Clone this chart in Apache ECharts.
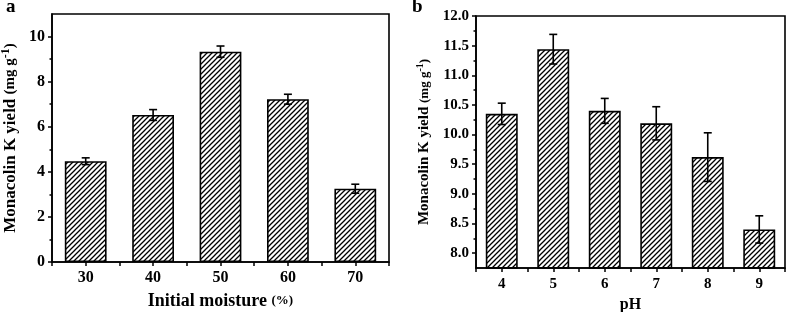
<!DOCTYPE html>
<html>
<head>
<meta charset="utf-8">
<script src="https://cdn.jsdelivr.net/npm/echarts@6/dist/echarts.min.js"></script>
<style>
  html, body { margin: 0; padding: 0; background: #fff; }
  #chart { width: 787px; height: 312px; }
</style>
</head>
<body>
<div id="chart"></div>
<script>
// panel a: initial moisture
const moistureCats = ['30', '40', '50', '60', '70'];
const moistureYield = [4.47, 6.52, 9.33, 7.22, 3.25];
const moistureErr = [0.15, 0.24, 0.25, 0.22, 0.2];
const moistureTicks = [0, 2, 4, 6, 8, 10];
const moistureMinor = [1, 3, 5, 7, 9];

// panel b: pH
const phCats = ['4', '5', '6', '7', '8', '9'];
const phYield = [10.35, 11.44, 10.40, 10.19, 9.62, 8.40];
const phErr = [0.18, 0.25, 0.21, 0.28, 0.41, 0.23];
const phTicks = [8, 8.5, 9, 9.5, 10, 10.5, 11, 11.5, 12];
const phMinor = [8.25, 8.75, 9.25, 9.75, 10.25, 10.75, 11.25, 11.75];

const serif = '"Liberation Serif", "Times New Roman", serif';

// diagonal hatch tile
function hatch(step) {
  const c = document.createElement('canvas');
  c.width = step;
  c.height = step;
  const g = c.getContext('2d');
  g.strokeStyle = '#000';
  g.lineWidth = 1.3;
  g.beginPath();
  g.moveTo(-1, step + 1); g.lineTo(step + 1, -1);
  g.moveTo(-1, 1); g.lineTo(1, -1);
  g.moveTo(step - 1, step + 1); g.lineTo(step + 1, step - 1);
  g.stroke();
  return c;
}

function errorBars(params, api) {
  const x = api.value(0), v = api.value(1), e = api.value(2);
  const hi = api.coord([x, v + e]);
  const lo = api.coord([x, v - e]);
  const cap = 4;
  const style = { stroke: '#000', lineWidth: 1.6 };
  return {
    type: 'group',
    children: [
      { type: 'line', shape: { x1: hi[0], y1: hi[1], x2: lo[0], y2: lo[1] }, style },
      { type: 'line', shape: { x1: hi[0] - cap, y1: hi[1], x2: hi[0] + cap, y2: hi[1] }, style },
      { type: 'line', shape: { x1: lo[0] - cap, y1: lo[1], x2: lo[0] + cap, y2: lo[1] }, style }
    ]
  };
}

const axisLine = { lineStyle: { color: '#000', width: 1.6 } };
const labelStyle = (size) => ({ color: '#000', fontFamily: serif, fontWeight: 'bold', fontSize: size });
const yName = (size) => ({
  m: { fontFamily: serif, fontWeight: 'bold', fontSize: size, color: '#000' },
  p: { fontFamily: serif, fontWeight: 'bold', fontSize: size - 2, color: '#000' },
  sup: { fontFamily: serif, fontWeight: 'bold', fontSize: size - 5, color: '#000', padding: [0, 0, 9, 0] }
});

const chart = echarts.init(document.getElementById('chart'));

chart.setOption({
  animation: false,
  backgroundColor: '#fff',
  graphic: [
    { type: 'text', left: 6, top: -2, style: { text: 'a', font: 'bold 19px ' + serif, fill: '#000' } },
    { type: 'text', left: 412, top: -2, style: { text: 'b', font: 'bold 19px ' + serif, fill: '#000' } }
  ],
  grid: [
    { left: 52, top: 14, width: 337, height: 248, outerBoundsMode: 'none', show: true, borderColor: '#000', borderWidth: 1.6 },
    { left: 476, top: 16, width: 309, height: 252, outerBoundsMode: 'none', show: true, borderColor: '#000', borderWidth: 1.6 }
  ],
  xAxis: [
    {
      type: 'category', gridIndex: 0, data: moistureCats, position: 'bottom',
      axisLine, axisTick: { show: false },
      axisLabel: { ...labelStyle(16), margin: 8 },
      name: '{m|Initial moisture }{p|(%)}', nameLocation: 'middle', nameGap: 30,
      nameTextStyle: {
        rich: {
          m: { fontFamily: serif, fontWeight: 'bold', fontSize: 18, color: '#000' },
          p: { fontFamily: serif, fontWeight: 'bold', fontSize: 13, color: '#000' }
        }
      }
    },
    {
      type: 'value', gridIndex: 0, min: 0, max: 10, interval: 1, position: 'bottom',
      axisLine: { show: false }, axisLabel: { show: false }, splitLine: { show: false },
      axisTick: { length: 4, lineStyle: { color: '#000', width: 1.5 } }
    },
    {
      type: 'category', gridIndex: 1, data: phCats, position: 'bottom',
      axisLine, axisTick: { show: false },
      axisLabel: { ...labelStyle(15), margin: 9 },
      name: 'pH', nameLocation: 'middle', nameGap: 26,
      nameTextStyle: { ...labelStyle(16) }
    },
    {
      type: 'value', gridIndex: 1, min: 0, max: 12, interval: 1, position: 'bottom',
      axisLine: { show: false }, axisLabel: { show: false }, splitLine: { show: false },
      axisTick: { length: 4, lineStyle: { color: '#000', width: 1.5 } }
    }
  ],
  yAxis: [
    {
      type: 'value', gridIndex: 0, min: 0, max: 11, position: 'left',
      axisLine: { show: true, ...axisLine }, splitLine: { show: false },
      axisTick: { show: true, customValues: moistureTicks, length: 4, lineStyle: { color: '#000', width: 1.5 } },
      axisLabel: { ...labelStyle(16), margin: 7, customValues: moistureTicks },
      name: '{m|Monacolin K yield }{p|(mg g}{sup|-1}{p|)}', nameLocation: 'middle', nameGap: 31,
      nameTextStyle: { rich: yName(17) }
    },
    {
      type: 'value', gridIndex: 0, min: 0, max: 11, position: 'left',
      axisLine: { show: false }, splitLine: { show: false }, axisLabel: { show: false },
      axisTick: { show: true, customValues: moistureMinor, length: 2.5, lineStyle: { color: '#000', width: 1.5 } }
    },
    {
      type: 'value', gridIndex: 1, min: 7.75, max: 12, position: 'left',
      axisLine: { show: true, ...axisLine }, splitLine: { show: false },
      axisTick: { show: true, customValues: phTicks, length: 4, lineStyle: { color: '#000', width: 1.5 } },
      axisLabel: { ...labelStyle(15), margin: 7, customValues: phTicks, formatter: (v) => v.toFixed(1) },
      name: '{m|Monacolin K yield }{p|(mg g}{sup|-1}{p|)}', nameLocation: 'middle', nameGap: 42,
      nameTextStyle: { rich: yName(15) }
    },
    {
      type: 'value', gridIndex: 1, min: 7.75, max: 12, position: 'left',
      axisLine: { show: false }, splitLine: { show: false }, axisLabel: { show: false },
      axisTick: { show: true, customValues: phMinor, length: 2.5, lineStyle: { color: '#000', width: 1.5 } }
    }
  ],
  series: [
    {
      type: 'bar', xAxisIndex: 0, yAxisIndex: 0, data: moistureYield, barWidth: '62%',
      itemStyle: { color: { image: hatch(5), repeat: 'repeat' }, borderColor: '#000', borderWidth: 1.6 }
    },
    {
      type: 'custom', xAxisIndex: 0, yAxisIndex: 0, z: 3, renderItem: errorBars,
      data: moistureYield.map((v, i) => [i, v, moistureErr[i]])
    },
    {
      type: 'bar', xAxisIndex: 2, yAxisIndex: 2, data: phYield, barWidth: '62%',
      itemStyle: { color: { image: hatch(5), repeat: 'repeat' }, borderColor: '#000', borderWidth: 1.6 }
    },
    {
      type: 'custom', xAxisIndex: 2, yAxisIndex: 2, z: 3, renderItem: errorBars,
      data: phYield.map((v, i) => [i, v, phErr[i]])
    }
  ]
});
</script>
</body>
</html>
